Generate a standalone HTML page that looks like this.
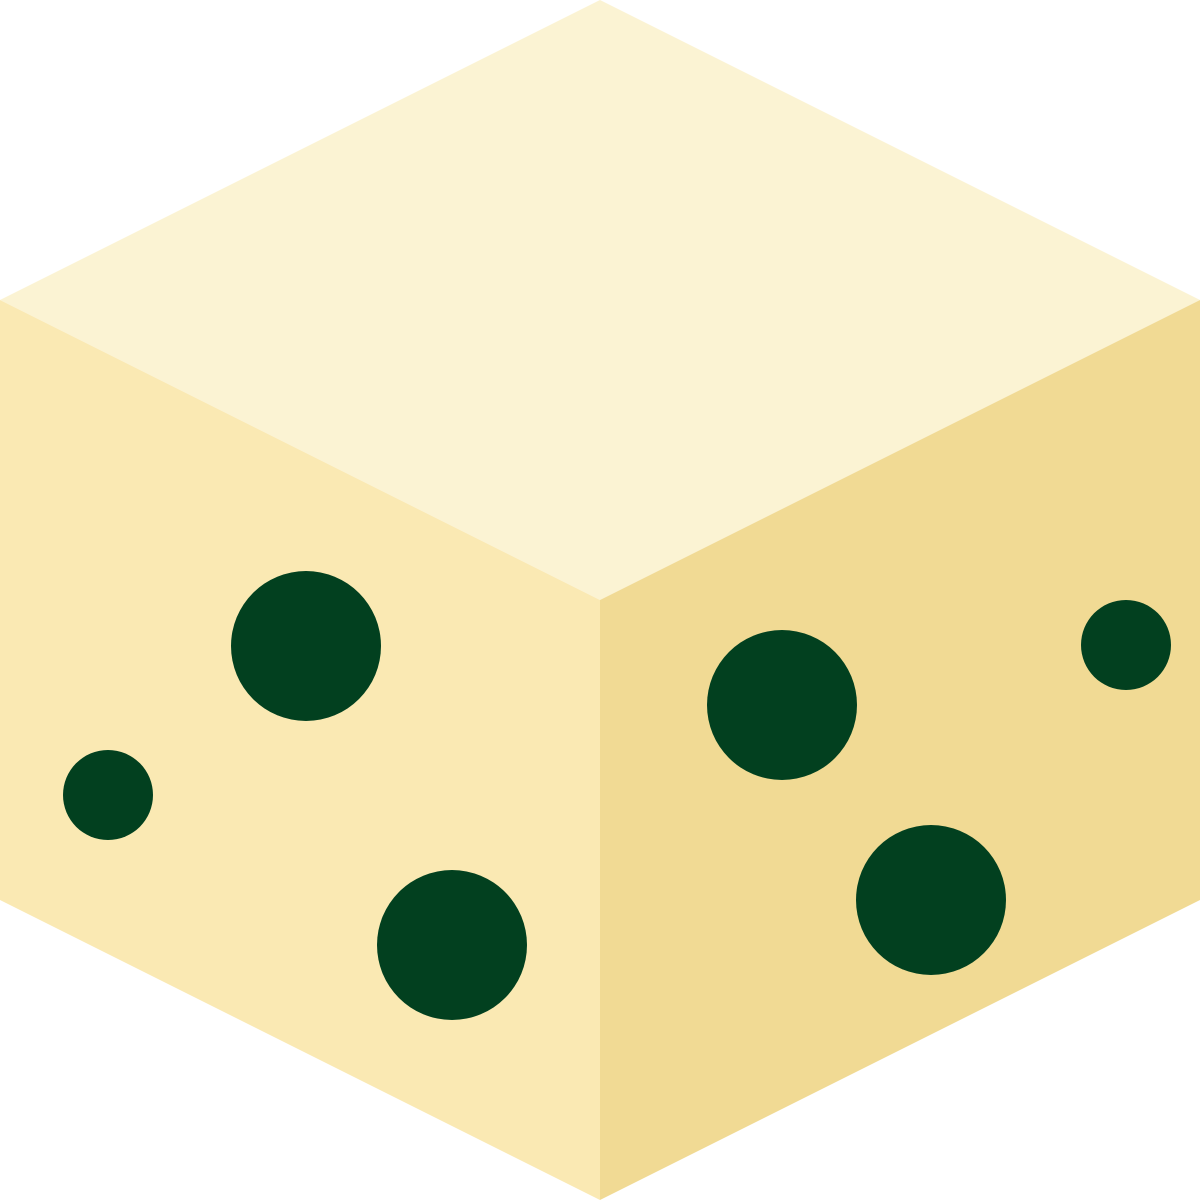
<!DOCTYPE html>
<html>
<head>
<meta charset="utf-8">
<style>
html,body{margin:0;padding:0;background:#fff;}
svg{display:block;}
</style>
</head>
<body>
<svg width="1201" height="1201" viewBox="0 0 1201 1201">
  <polygon points="600,0 1200,300 600,600 0,300" fill="#FBF3D3"/>
  <polygon points="0,300 600,600 600,1200 0,900" fill="#FAE9B3"/>
  <polygon points="600,600 1200,300 1200,900 600,1200" fill="#F1DA94"/>
  <circle cx="306" cy="646" r="75" fill="#02401F"/>
  <circle cx="108" cy="795" r="45" fill="#02401F"/>
  <circle cx="452" cy="945" r="75" fill="#02401F"/>
  <circle cx="782" cy="705" r="75" fill="#02401F"/>
  <circle cx="1126" cy="645" r="45" fill="#02401F"/>
  <circle cx="931" cy="900" r="75" fill="#02401F"/>
</svg>
</body>
</html>
